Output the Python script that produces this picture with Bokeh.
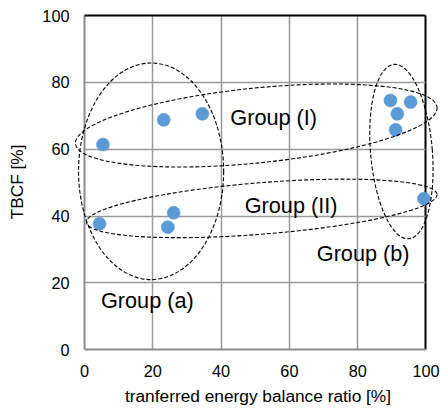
from bokeh.plotting import figure
from bokeh.models import Range1d, FixedTicker, ColumnDataSource, Grid
from bokeh.core.properties import value
from bokeh.embed import file_html
from bokeh.resources import INLINE

# data points
x_vals = [5.4, 23.2, 34.5, 89.6, 95.5, 91.6, 91.1, 99.4, 4.4, 26.1, 24.4]
y_vals = [61.4, 68.8, 70.6, 74.6, 74.1, 70.6, 65.8, 45.2, 37.7, 41.0, 36.7]

# group ellipses
ell_names = ["Group (I)", "Group (II)", "Group (a)", "Group (b)"]
ell_x = [50.3, 51.9, 19.5, 92.8]
ell_y = [67.1, 42.3, 53.4, 59.3]
ell_w = [106.4, 103.0, 42.5, 18.1]
ell_h = [22.4, 15.4, 64.8, 52.4]
ell_angle = [0.101, 0.080, 0.0, 0.085]

# group labels
lab_text = ["Group (I)", "Group (II)", "Group (a)", "Group (b)"]
lab_x = [55.4, 60.5, 18.4, 81.6]
lab_y = [69.6, 43.2, 14.7, 28.7]

ticks = [0, 20, 40, 60, 80, 100]
inner_ticks = [20, 40, 60, 80]

FONT = "Liberation Sans"

p = figure(width=441, height=409, output_backend="svg", toolbar_location=None,
           x_range=Range1d(-2.93, 104.54), y_range=Range1d(-1.1, 101.5),
           min_border_left=74, min_border_right=0, min_border_top=10, min_border_bottom=56)

p.background_fill_color = "white"
p.border_fill_color = "white"
p.outline_line_color = None

for ax in (p.xaxis[0], p.yaxis[0]):
    ax.ticker = FixedTicker(ticks=ticks)
    ax.axis_line_color = None
    ax.major_tick_line_color = None
    ax.minor_tick_line_color = None
    ax.major_tick_out = 0
    ax.major_tick_in = 0
    ax.minor_tick_out = 0
    ax.minor_tick_in = 0
    ax.major_label_text_font = FONT
    ax.major_label_text_font_size = "16.3px"
    ax.major_label_text_color = "black"
    ax.axis_label_text_font = FONT
    ax.axis_label_text_font_size = "17.3px"
    ax.axis_label_text_font_style = "normal"
    ax.axis_label_text_color = "black"

p.xaxis.axis_label = "tranferred energy balance ratio [%]"
p.yaxis.axis_label = "TBCF [%]"
p.xaxis.major_label_standoff = 11
p.xaxis.axis_label_standoff = 6
p.yaxis.major_label_standoff = 5
p.yaxis.axis_label_standoff = 12

p.xgrid.visible = False
p.ygrid.visible = False

for dim in (0, 1):
    p.add_layout(Grid(dimension=dim, ticker=FixedTicker(ticks=inner_ticks),
                      bounds=(0, 100), cross_bounds=(0, 100),
                      grid_line_color="#999999", grid_line_width=1.5))
    p.add_layout(Grid(dimension=dim, ticker=FixedTicker(ticks=[0]),
                      bounds=(0, 100), cross_bounds=(0, 100),
                      grid_line_color="#8c8c8c", grid_line_width=2))
    p.add_layout(Grid(dimension=dim, ticker=FixedTicker(ticks=[100]),
                      bounds=(0, 100), cross_bounds=(0, 100),
                      grid_line_color="black", grid_line_width=2))

pts = ColumnDataSource(dict(x=x_vals, y=y_vals))
p.scatter("x", "y", source=pts, size=13, fill_color="#5B9BD5", line_color="#5B9BD5",
          line_alpha=0.6, line_width=1)

ell = ColumnDataSource(dict(x=ell_x, y=ell_y, w=ell_w, h=ell_h, a=ell_angle))
p.ellipse(x="x", y="y", width="w", height="h", angle="a", source=ell,
          fill_color=None, line_color="black", line_width=1.1, line_dash="4 2")

labs = ColumnDataSource(dict(x=lab_x, y=lab_y, t=lab_text))
p.text(x="x", y="y", text="t", source=labs, text_font=value(FONT),
       text_font_size="21.7px", text_align="center", text_baseline="middle",
       text_color="black")

open("out.html", "w").write(file_html(p, INLINE))
